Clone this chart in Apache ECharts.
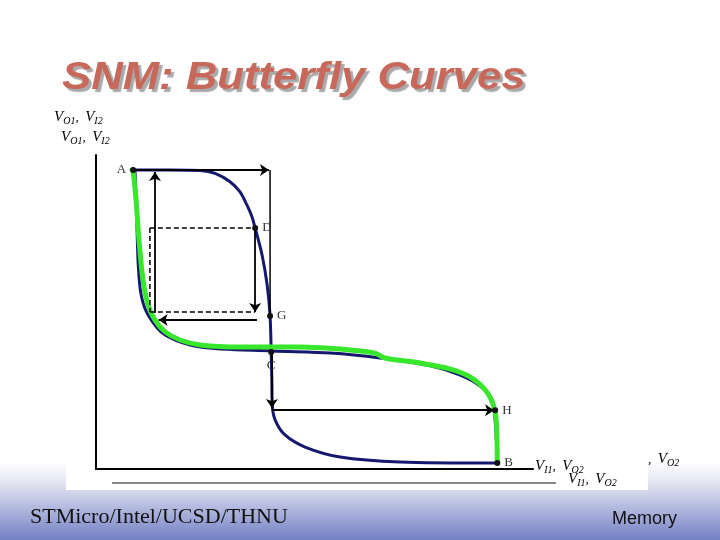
<!DOCTYPE html>
<html><head><meta charset="utf-8">
<script src="https://cdn.jsdelivr.net/npm/echarts@6/dist/echarts.min.js"></script>
<style>html,body{margin:0;padding:0;background:#fff}#c{width:720px;height:540px}</style>
</head><body><div id="c"></div>
<script>
// Inverter 1 VTC (blue), x = V_I1, y = V_O1 (normalised volts)
const curveBlue1 = [[0.102,1.143],[0.200,1.143],[0.286,1.141],[0.327,1.130],[0.368,1.098],[0.395,1.060],[0.414,1.010],[0.428,0.965],[0.437,0.921],[0.456,0.818],[0.470,0.703],[0.478,0.585],[0.481,0.455],[0.483,0.330],[0.484,0.245],[0.492,0.187],[0.519,0.130],[0.574,0.084],[0.670,0.046],[0.835,0.027],[1.102,0.023]];
// Inverter 2 VTC mirrored (blue, mostly under the green one)
const curveBlue2 = [[0.107,1.143],[0.112,0.950],[0.116,0.780],[0.124,0.665],[0.143,0.589],[0.190,0.512],[0.286,0.466],[0.484,0.451],[0.643,0.443],[0.780,0.424],[0.918,0.394],[1.000,0.359],[1.055,0.317],[1.088,0.264],[1.096,0.187],[1.102,0.023]];
// Highlighted mirrored VTC (green)
const curveGreen = [[0.096,1.150],[0.102,1.135],[0.110,1.028],[0.118,0.875],[0.129,0.722],[0.143,0.627],[0.162,0.569],[0.190,0.524],[0.231,0.493],[0.286,0.474],[0.396,0.466],[0.560,0.466],[0.698,0.455],[0.766,0.443],[0.794,0.424],[0.890,0.405],[0.973,0.382],[1.027,0.352],[1.069,0.302],[1.091,0.245],[1.099,0.187],[1.102,0.023]];
// Named points
const pointNames = ['A','D','E','F','G','C','H','B'];
const pointValues = [[0.102,1.143],[0.437,0.921],[0.154,0.600],[0.176,0.569],[0.478,0.585],[0.481,0.447],[1.096,0.225],[1.102,0.023]];
const pointDots = [true,true,false,false,true,true,true,true];
// Arrow / construction segments
const arrowSegs = [
  [[0.162,0.596],[0.162,1.135]],
  [[0.102,1.143],[0.475,1.143]],
  [[0.437,0.921],[0.437,0.600]],
  [[0.442,0.569],[0.172,0.569]],
  [[0.483,0.447],[0.483,0.233]],
  [[0.483,0.225],[1.093,0.225]]
];
const plainSegs = [
  [[0.478,1.143],[0.478,0.585]]
];
const dashedSegs = [
  [[0.148,0.921],[0.437,0.921]],
  [[0.148,0.921],[0.148,0.600]],
  [[0.148,0.600],[0.437,0.600]]
];
const labelPos = ['left','right','left','bottom','right','bottom','right','right'];

const chart = echarts.init(document.getElementById('c'));
const serif = '"Liberation Serif","Times New Roman",serif';
const axisRich = {
  v:{fontFamily:serif,fontStyle:'italic',fontSize:15,color:'#222'},
  s:{fontFamily:serif,fontStyle:'italic',fontSize:10,color:'#222',padding:[7,0,0,0]},
  c:{fontFamily:serif,fontSize:13,color:'#222'}
};
function segSeries(segs, opts){
  return segs.map(s => Object.assign({type:'line',data:s,symbol:'none',silent:true,animation:false,z:4,
    lineStyle:{color:'#000',width:1.5}}, opts));
}
const series = [
  {type:'line',data:curveBlue2,symbol:'none',smooth:0.3,lineStyle:{color:'#15186e',width:3},z:2,animation:false},
  {type:'line',data:curveBlue1,symbol:'none',smooth:0.3,lineStyle:{color:'#15186e',width:3},z:2,animation:false},
  {type:'line',data:curveGreen,symbol:'none',smooth:0.3,lineStyle:{color:'#38e62c',width:5},z:3,animation:false},
  {type:'lines',coordinateSystem:'cartesian2d',polyline:false,z:5,animation:false,
    symbol:['none','arrow'],symbolSize:9,
    lineStyle:{color:'#000',width:1.8,opacity:1},
    data:arrowSegs.map(s=>({coords:s}))},
  ...segSeries(plainSegs,{lineStyle:{color:'#000',width:1.5}}),
  ...segSeries(dashedSegs,{lineStyle:{color:'#000',width:1.5,type:[5,3]}}),
  {type:'scatter',z:6,animation:false,symbolSize:6,
    data:pointValues.map((v,i)=>({value:v,name:pointNames[i],
      itemStyle:{color:'#111',opacity:pointDots[i]?1:0},
      label:{show:true,position:labelPos[i],formatter:pointNames[i],distance:4}})),
    label:{fontFamily:serif,fontSize:13,color:'#333'}}
];

chart.setOption({
  animation:false,
  backgroundColor:'#fff',
  grid:{left:96,top:155,width:437,height:314},
  xAxis:{type:'value',min:0,max:1.2,axisLine:{show:true,lineStyle:{color:'#000',width:2}},axisTick:{show:false},axisLabel:{show:false},splitLine:{show:false}},
  yAxis:{type:'value',min:0,max:1.2,axisLine:{show:true,lineStyle:{color:'#000',width:2}},axisTick:{show:false},axisLabel:{show:false},splitLine:{show:false}},
  graphic:[
    {type:'rect',z:-10,shape:{x:0,y:462,width:720,height:78},
      style:{fill:new echarts.graphic.LinearGradient(0,0,0,1,[{offset:0,color:'#ffffff'},{offset:0.3,color:'#dfe1f1'},{offset:1,color:'#7380c3'}])}},
    {type:'rect',z:-9,shape:{x:66,y:440,width:582,height:50},style:{fill:'#fff'}},
    {type:'line',z:1,shape:{x1:112,y1:483,x2:556,y2:483},style:{stroke:'#111',lineWidth:1.2}},
    {type:'text',z:10,x:62,y:59,scaleX:1.12,style:{text:'SNM: Butterfly Curves',font:'italic bold 39px "Liberation Sans", Arial, sans-serif',fill:'#c8685a',textShadowColor:'#a9a9a9',textShadowOffsetX:3,textShadowOffsetY:3,textShadowBlur:1}},
    {type:'text',z:10,left:54,top:110,style:{text:'{v|V}{s|O1}{c|,  }{v|V}{s|I2}',rich:axisRich}},
    {type:'text',z:10,left:61,top:130,style:{text:'{v|V}{s|O1}{c|,  }{v|V}{s|I2}',rich:axisRich}},
    {type:'text',z:10,left:535,top:459,style:{text:'{v|V}{s|I1}{c|,  }{v|V}{s|O2}',rich:axisRich}},
    {type:'text',z:10,left:568,top:472,style:{text:'{v|V}{s|I1}{c|,  }{v|V}{s|O2}',rich:axisRich}},
    {type:'text',z:10,left:648,top:452,style:{text:'{c|,  }{v|V}{s|O2}',rich:axisRich}},
    {type:'text',z:10,left:30,top:506,style:{text:'STMicro/Intel/UCSD/THNU',font:'22px "Liberation Serif","Times New Roman",serif',fill:'#111'}},
    {type:'text',z:10,left:612,top:510,style:{text:'Memory',font:'18px "Liberation Sans Narrow","Liberation Sans",Arial,sans-serif',fill:'#111'}}
  ],
  series:series
});
</script></body></html>
